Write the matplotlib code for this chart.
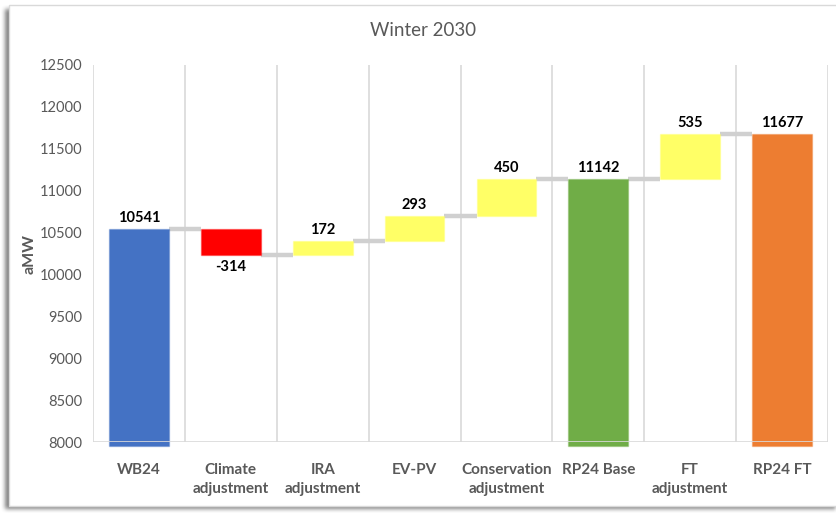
import numpy as np
import matplotlib
matplotlib.use("Agg")
import matplotlib.pyplot as plt
from matplotlib.patches import Rectangle
from matplotlib.colors import to_rgba

plt.rcParams['font.family'] = ['Lato', 'DejaVu Sans']

# ---- data -------------------------------------------------------------
categories = ["WB24", "Climate\nadjustment", "IRA\nadjustment", "EV-PV",
              "Conservation\nadjustment", "RP24 Base", "FT\nadjustment", "RP24 FT"]
# step values: totals are given as absolute levels, adjustments as deltas
steps = [10541, -314, 172, 293, 450, 11142, 535, 11677]
is_total = [True, False, False, False, False, True, False, True]
bar_colors = ["#4472C4", "#FF0000", "#FFFF66", "#FFFF66", "#FFFF66",
              "#70AD47", "#FFFF66", "#ED7D31"]
y_ticks = [8000, 8500, 9000, 9500, 10000, 10500, 11000, 11500, 12000, 12500]
title = "Winter 2030"
y_label = "aMW"

# ---- figure & chart-area frame with soft shadow -------------------------
W, H = 836, 513
fig = plt.figure(figsize=(W / 100, H / 100), dpi=100)
fig.patch.set_facecolor("white")

# shadow: blurred dark mask behind the chart area
mask = np.zeros((H, W))
x0, y0, x1, y1 = 9, 5, W + 20, 506
mask[y0 + 4:min(y1 + 3, H), max(x0 - 4, 0):W] = 1.0
k = 5
kern = np.ones(k) / k
for _ in range(2):
    mask = np.apply_along_axis(lambda r: np.convolve(r, kern, mode="same"), 1, mask)
    mask = np.apply_along_axis(lambda c: np.convolve(c, kern, mode="same"), 0, mask)
shade = np.ones((H, W, 4))
shade[..., :3] = 0.35
shade[..., 3] = mask * 0.75
fig.figimage(shade, xo=0, yo=0, origin="upper", zorder=0)

fig.patches.append(Rectangle((x0 / W, 1 - y1 / H), (W - x0) / W + 0.01, (y1 - y0) / H,
                             transform=fig.transFigure, facecolor="white",
                             edgecolor="#d9d9d9", linewidth=1.0, zorder=1))

# ---- plot area ----------------------------------------------------------
left, right, top, bottom = 93, 828, 65, 442
ax = fig.add_axes([left / W, 1 - bottom / H, (right - left) / W, (bottom - top) / H])
ax.set_zorder(2)
ax.patch.set_alpha(0)

n = len(categories)
x = np.arange(n)
ymin, ymax = 8000, 12500
base_ext = 7955  # total bars run slightly past the axis line
bw = 0.65

bottoms, heights, levels = [], [], []
level = 0
for v, tot in zip(steps, is_total):
    if tot:
        level = v
        bottoms.append(base_ext)
        heights.append(v - base_ext)
    else:
        start = level
        level = level + v
        bottoms.append(min(start, level))
        heights.append(abs(v))
    levels.append(level)

for i in range(n):
    ec = to_rgba(bar_colors[i], 0.35)
    r = ax.bar(x[i], heights[i], bottom=bottoms[i], width=bw, color=bar_colors[i],
               edgecolor=ec, linewidth=1.0, zorder=3)
    for p in r:
        p.set_clip_on(False)

# connectors between consecutive bars
for i in range(n - 1):
    ax.plot([x[i] + bw / 2, x[i + 1] - bw / 2], [levels[i], levels[i]],
            color="#d0d0d0", linewidth=3.2, solid_capstyle="butt", zorder=2)

# value labels
for i in range(n):
    v = steps[i]
    if is_total[i] or v >= 0:
        ax.annotate(f"{v}", (x[i], bottoms[i] + heights[i]), xytext=(0, 3),
                    textcoords="offset points", ha="center", va="bottom",
                    fontsize=10.5, fontweight="bold", color="black", zorder=5)
    else:
        ax.annotate(f"{v}", (x[i], bottoms[i]), xytext=(0, -3),
                    textcoords="offset points", ha="center", va="top",
                    fontsize=10.5, fontweight="bold", color="black", zorder=5)

# vertical category separators and baseline
for b in np.arange(-0.5, n, 1.0):
    ax.axvline(b, color="#d9d9d9", linewidth=1.2, zorder=1)
ax.axhline(ymin, color="#d9d9d9", linewidth=1.2, zorder=4)

ax.set_xlim(-0.5, n - 0.5)
ax.set_ylim(ymin, ymax)
ax.set_yticks(y_ticks)
ax.set_yticklabels([str(t) for t in y_ticks])
ax.set_xticks(x)
ax.set_xticklabels(categories)
for s in ax.spines.values():
    s.set_visible(False)
ax.tick_params(axis="both", length=0)
ax.tick_params(axis="y", labelsize=10.5, labelcolor="#595959", pad=8)
ax.tick_params(axis="x", labelsize=11, labelcolor="#595959", pad=15)
for lab in ax.get_xticklabels():
    lab.set_fontweight("bold")
    lab.set_linespacing(1.5)

ax.set_ylabel(y_label, fontsize=11.5, fontweight="bold", color="#595959", labelpad=2)

fig.text(423 / W, 1 - 31 / H, title, ha="center", va="center",
         fontsize=13.5, color="#595959", zorder=3)

fig.savefig("out.png", dpi=100)
